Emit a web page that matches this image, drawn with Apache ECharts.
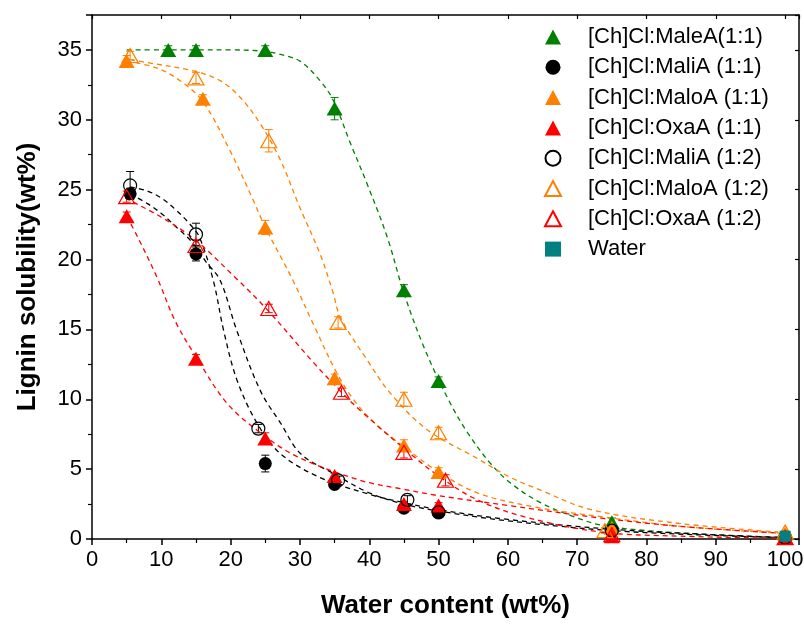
<!DOCTYPE html>
<html>
<head>
<meta charset="utf-8">
<script src="https://cdn.jsdelivr.net/npm/echarts@6/dist/echarts.min.js"></script>
<style>
  html, body { margin: 0; padding: 0; background: #fff; }
  #myChart { width: 804px; height: 624px; }
</style>
</head>
<body>
<div id="myChart"></div>
<script>
// measured points (x = water content, y = solubility, e = error bar half length)
var maleA11_x = [11, 15, 25, 35, 45, 50, 75, 100];
var maleA11_y = [35.0, 35.0, 35.0, 30.8, 17.8, 11.3, 1.2, 0.1];
var maleA11_e = [0.3, 0.3, 0.3, 0.8, 0.4, 0.3, 0.3, 0.1];

var maliA11_x = [5.5, 15, 25, 35, 45, 50, 75, 100];
var maliA11_y = [24.7, 20.4, 5.4, 3.9, 2.2, 1.9, 0.6, 0.1];
var maliA11_e = [0.4, 0.5, 0.6, 0.3, 0.3, 0.3, 0.2, 0.1];

var maloA11_x = [5, 16, 25, 35, 45, 50, 75, 100];
var maloA11_y = [34.2, 31.5, 22.3, 11.5, 6.7, 4.8, 0.8, 0.4];
var maloA11_e = [0.4, 0.3, 0.5, 0.3, 0.4, 0.3, 0.3, 0.1];

var oxaA11_x = [5, 15, 25, 35, 45, 50, 75, 100];
var oxaA11_y = [23.1, 12.9, 7.2, 4.5, 2.5, 2.4, 0.2, 0.1];
var oxaA11_e = [0.3, 0.3, 0.4, 0.2, 0.2, 0.2, 0.1, 0.1];

var maliA12_x = [5.5, 15, 24, 35.5, 45.5, 50, 75, 100];
var maliA12_y = [25.3, 21.8, 7.9, 4.2, 2.8, 1.9, 0.6, 0.1];
var maliA12_e = [1.0, 0.8, 0.3, 0.3, 0.3, 0.3, 0.2, 0.1];

var maloA12_x = [5.5, 15, 25.5, 35.5, 45, 50, 74, 100];
var maloA12_y = [34.6, 33.0, 28.5, 15.5, 10.0, 7.6, 0.6, 0.5];
var maloA12_e = [0.3, 0.4, 0.8, 0.4, 0.5, 0.4, 0.2, 0.1];

var oxaA12_x = [5, 15, 25.5, 36, 45, 51, 75, 100];
var oxaA12_y = [24.5, 21.0, 16.5, 10.5, 6.2, 4.2, 0.3, 0.1];
var oxaA12_e = [0.4, 0.4, 0.3, 0.3, 0.4, 0.4, 0.2, 0.1];

var water_x = [100];
var water_y = [0.2];

// fitted curves
var fitMaleA11 = [[5,35],[10,35],[15,35],[20,35],[25,34.9],[27,34.7],[30,34.2],[32.9,32.8],[34.8,31.4],[37.3,28.3],[39.7,25.4],[42.6,21.6],[45,17.6],[48,13.6],[51.5,9.9],[54.2,7.6],[57.5,5.4],[60.4,4.0],[64.7,2.6],[69.5,1.6],[73.4,1.0],[80,0.6],[90,0.3],[100,0.1]];
var fitMaliA11 = [[5.5,24.7],[8,24.0],[10,23.3],[12,22.4],[14.5,21.2],[16.5,19.8],[18.5,18.5],[20.9,14.9],[24.3,10.6],[27.2,8.3],[30.1,6.1],[34.8,4.7],[40,3.3],[45,2.5],[50,2.0],[60,1.3],[75,0.6],[90,0.25],[100,0.1]];
var fitMaloA11 = [[5,34.2],[9.4,33.7],[12.7,32.8],[16,31.3],[19.9,27.8],[23.3,24.2],[25,22.3],[28.9,18.6],[32,15.3],[35.3,11.9],[38,9.8],[41,8.2],[45,6.6],[50,4.8],[55.6,3.3],[63.7,2.3],[73.4,1.6],[85,0.9],[100,0.4]];
var fitOxaA11 = [[5,23.1],[6.6,21.6],[9.4,18.7],[12,15.6],[15.3,12.8],[19.5,9.7],[24.3,7.6],[29.6,5.9],[38.7,4.2],[44.5,3.6],[50,3.1],[60,2.4],[73.4,1.5],[85,0.9],[100,0.4]];
var fitMaliA12 = [[5.5,25.2],[8,24.9],[10,24.4],[12,23.6],[14,22.6],[15.5,21.6],[17.5,18.5],[19,14.9],[20.9,11.4],[23.8,8.3],[27.2,6.1],[32.9,4.4],[40,3.2],[45,2.6],[50,2.1],[60,1.4],[75,0.7],[90,0.3],[100,0.1]];
var fitMaloA12 = [[5.5,34.3],[7.9,34.1],[14.6,33.5],[18.5,32.8],[21.4,31.6],[24.3,29.7],[27.2,27.1],[30,23.7],[32.9,20.4],[34.8,17.6],[35.8,15.9],[39.7,12.8],[43.1,10.4],[48.4,7.8],[55.1,5.9],[60.4,4.4],[64.7,3.5],[72,2.1],[85,1.1],[99,0.5]];
var fitOxaA12 = [[4.8,24.4],[10.1,23.0],[14.9,21.4],[20.7,18.7],[25.3,16.4],[32,12.6],[35.8,10.6],[38.7,9.2],[45.2,6.4],[50.3,4.4],[55.6,2.8],[62.3,1.6],[73.4,0.5],[85,0.2],[100,0.05]];

var GREEN = '#008000', ORANGE = '#ff8000', RED = '#ff0000', BLACK = '#000000', TEAL = '#008080';

function pts(xs, ys) {
  return xs.map(function (x, i) { return [x, ys[i]]; });
}

// error bars as a custom series
function errSeries(color, xs, ys, es) {
  var d = xs.map(function (x, i) { return [x, ys[i] - es[i], ys[i] + es[i]]; });
  return {
    type: 'custom',
    silent: true,
    z: 1,
    encode: { x: 0, y: [1, 2] },
    data: d,
    renderItem: function (params, api) {
      var lo = api.coord([api.value(0), api.value(1)]);
      var hi = api.coord([api.value(0), api.value(2)]);
      var w = 4;
      var st = { stroke: color, lineWidth: 1 };
      return {
        type: 'group',
        children: [
          { type: 'line', shape: { x1: lo[0], y1: lo[1], x2: hi[0], y2: hi[1] }, style: st },
          { type: 'line', shape: { x1: lo[0] - w, y1: lo[1], x2: lo[0] + w, y2: lo[1] }, style: st },
          { type: 'line', shape: { x1: hi[0] - w, y1: hi[1], x2: hi[0] + w, y2: hi[1] }, style: st }
        ]
      };
    }
  };
}

function fitSeries(color, data) {
  return {
    type: 'line',
    data: data,
    showSymbol: false,
    silent: true,
    smooth: 0.35,
    z: 2,
    lineStyle: { color: color, width: 1.3, type: [5, 4] }
  };
}

function markSeries(name, symbol, size, color, filled, xs, ys) {
  return {
    name: name,
    type: 'scatter',
    symbol: symbol,
    symbolSize: size,
    z: 3,
    data: pts(xs, ys),
    itemStyle: filled
      ? { color: color, opacity: 1 }
      : { color: 'rgba(255,255,255,0)', borderColor: color, borderWidth: 1.2, opacity: 1 }
  };
}

var names = ['[Ch]Cl:MaleA(1:1)', '[Ch]Cl:MaliA (1:1)', '[Ch]Cl:MaloA (1:1)', '[Ch]Cl:OxaA (1:1)',
             '[Ch]Cl:MaliA (1:2)', '[Ch]Cl:MaloA (1:2)', '[Ch]Cl:OxaA (1:2)', 'Water'];

var series = [
  fitSeries(GREEN, fitMaleA11),
  fitSeries(BLACK, fitMaliA11),
  fitSeries(ORANGE, fitMaloA11),
  fitSeries(RED, fitOxaA11),
  fitSeries(BLACK, fitMaliA12),
  fitSeries(ORANGE, fitMaloA12),
  fitSeries(RED, fitOxaA12),
  errSeries(GREEN, maleA11_x, maleA11_y, maleA11_e),
  errSeries(BLACK, maliA11_x, maliA11_y, maliA11_e),
  errSeries(ORANGE, maloA11_x, maloA11_y, maloA11_e),
  errSeries(RED, oxaA11_x, oxaA11_y, oxaA11_e),
  errSeries(BLACK, maliA12_x, maliA12_y, maliA12_e),
  errSeries(ORANGE, maloA12_x, maloA12_y, maloA12_e),
  errSeries(RED, oxaA12_x, oxaA12_y, oxaA12_e),
  markSeries(names[0], 'triangle', [16, 14], GREEN, true, maleA11_x, maleA11_y),
  markSeries(names[1], 'circle', 13, BLACK, true, maliA11_x, maliA11_y),
  markSeries(names[2], 'triangle', [16, 14], ORANGE, true, maloA11_x, maloA11_y),
  markSeries(names[3], 'triangle', [16, 14], RED, true, oxaA11_x, oxaA11_y),
  markSeries(names[4], 'circle', 13, BLACK, false, maliA12_x, maliA12_y),
  markSeries(names[5], 'triangle', [16, 14], ORANGE, false, maloA12_x, maloA12_y),
  markSeries(names[6], 'triangle', [16, 14], RED, false, oxaA12_x, oxaA12_y),
  markSeries(names[7], 'rect', 11, TEAL, true, water_x, water_y)
];

var axisCommon = {
  axisLine: { show: true, onZero: false, lineStyle: { color: '#000', width: 1.5 } },
  splitLine: { show: false }
};

var chart = echarts.init(document.getElementById('myChart'));
chart.setOption({
  animation: false,
  backgroundColor: '#fff',
  grid: { left: 92, right: 5, top: 15, bottom: 85, outerBoundsMode: 'none' },
  legend: {
    data: names,
    orient: 'vertical',
    left: 539,
    top: 21,
    itemWidth: 16,
    itemHeight: 15,
    itemGap: 8.3,
    textStyle: { fontSize: 22, fontFamily: 'Arial', color: '#000', padding: [0, 0, 0, 22] }
  },
  xAxis: [
    Object.assign({
      type: 'value', min: 0, max: 102, interval: 10, position: 'bottom',
      name: 'Water content (wt%)', nameLocation: 'middle', nameGap: 54,
      nameTextStyle: { fontSize: 26, fontWeight: 'bold', fontFamily: 'Arial', color: '#000' },
      axisTick: { show: true, length: 6, lineStyle: { color: '#000', width: 1.5 } },
      minorTick: { show: true, splitNumber: 2, length: 4, lineStyle: { color: '#000', width: 1.2 } },
      minorSplitLine: { show: false },
      axisLabel: {
        fontSize: 22, fontFamily: 'Arial', color: '#000', margin: 10,
        formatter: function (v) { return v % 10 === 0 ? v : ''; }
      }
    }, axisCommon),
    Object.assign({
      type: 'value', min: 0, max: 102, interval: 10, position: 'top',
      axisTick: { show: true, inside: true, length: 4, lineStyle: { color: '#000', width: 1.2 } },
      axisLabel: { show: false }
    }, axisCommon)
  ],
  yAxis: [
    Object.assign({
      type: 'value', min: 0, max: 37.5, interval: 5, position: 'left',
      name: 'Lignin solubility(wt%)', nameLocation: 'middle', nameGap: 51,
      nameTextStyle: { fontSize: 26, fontWeight: 'bold', fontFamily: 'Arial', color: '#000' },
      axisTick: { show: true, length: 6, lineStyle: { color: '#000', width: 1.5 } },
      minorTick: { show: true, splitNumber: 2, length: 4, lineStyle: { color: '#000', width: 1.2 } },
      minorSplitLine: { show: false },
      axisLabel: {
        fontSize: 22, fontFamily: 'Arial', color: '#000', margin: 10,
        formatter: function (v) { return v % 5 === 0 ? v : ''; }
      }
    }, axisCommon),
    Object.assign({
      type: 'value', min: 0, max: 37.5, interval: 5, position: 'right',
      axisTick: { show: true, inside: true, length: 4, lineStyle: { color: '#000', width: 1.2 } },
      axisLabel: { show: false }
    }, axisCommon)
  ],
  series: series
});
</script>
</body>
</html>
